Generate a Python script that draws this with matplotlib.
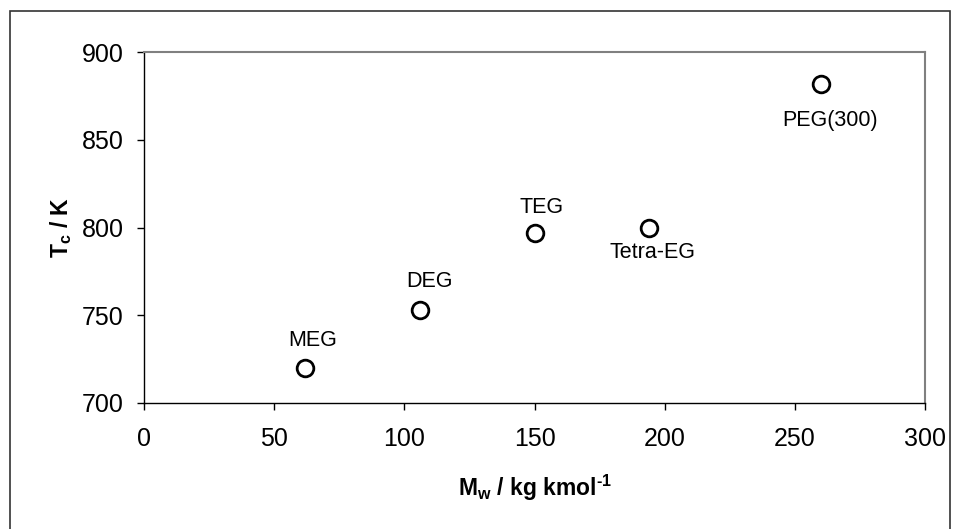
import matplotlib
matplotlib.use("Agg")
import matplotlib.pyplot as plt
from matplotlib.patches import Rectangle

plt.rcParams['font.family'] = ['Liberation Sans', 'DejaVu Sans']
plt.rcParams['mathtext.fontset'] = 'custom'
plt.rcParams['mathtext.rm'] = 'Liberation Sans:bold'
plt.rcParams['mathtext.bf'] = 'Liberation Sans:bold'
plt.rcParams['mathtext.it'] = 'Liberation Sans:bold'

names = ["MEG", "DEG", "TEG", "Tetra-EG", "PEG(300)"]
mw = [62, 106, 150, 194, 260]
tc = [720, 753, 797, 800, 882]

# label offsets in pixels (dx, dy), styling only
label_dx_px = [7, 10, 7, 3, 9]
label_dy_px = [27, 28, 25, -25, -37]

W, H = 958, 529
fig = plt.figure(figsize=(W / 100, H / 100), dpi=100)
ax = fig.add_axes([144 / W, 1 - 403 / H, (925 - 144) / W, (403 - 52) / H])

fig.patches.append(Rectangle((9.5 / W, -0.05), (950 - 9.5) / W, 1 - 10.5 / H + 0.05,
                             transform=fig.transFigure, fill=False,
                             edgecolor='#333333', linewidth=1.2))

ax.plot(mw, tc, linestyle='none', marker='o', markersize=12,
        markerfacecolor='white', markeredgecolor='black', markeredgewidth=2)

px2pt = 0.72
for n, x, y, dx, dy in zip(names, mw, tc, label_dx_px, label_dy_px):
    ax.annotate(n, (x, y), xytext=(dx * px2pt, dy * px2pt), textcoords='offset points',
                ha='center', va='center', fontsize=15.5)

ax.set_xlim(0, 300)
ax.set_ylim(700, 900)
ax.set_xticks([0, 50, 100, 150, 200, 250, 300])
ax.set_yticks([700, 750, 800, 850, 900])
ax.tick_params(axis='both', direction='out', length=5, width=1, labelsize=18)
ax.tick_params(axis='x', pad=12)
ax.tick_params(axis='y', pad=9.5)

for s in ['left', 'bottom']:
    ax.spines[s].set_color('black')
    ax.spines[s].set_linewidth(1)
for s in ['top', 'right']:
    ax.spines[s].set_color('#808080')
    ax.spines[s].set_linewidth(1.5)

ax.set_xlabel(r'M$_{\mathrm{w}}$ / kg kmol$^{\text{-1}}$', fontsize=16.5, fontweight='bold', labelpad=16)
ax.set_ylabel(r'T$_{\mathrm{c}}$ / K', fontsize=16.5, fontweight='bold', labelpad=6)

fig.savefig("out.png", dpi=100)
